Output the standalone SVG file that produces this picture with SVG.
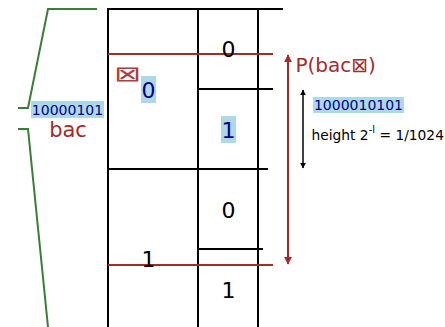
<svg xmlns="http://www.w3.org/2000/svg" width="445" height="327" viewBox="0 0 445 327">
  <style>
    text { font-family: "DejaVu Sans", sans-serif; }
    .grid { stroke: #000; stroke-width: 2; fill: none; }
    .cut { stroke: #a52a2a; stroke-width: 2; fill: none; }
    .brace { stroke: #3a7d3a; stroke-width: 2; fill: none; }
    .digit { font-size: 22px; text-anchor: middle; fill: #000; }
    .code { fill: #00008b; }
    .hl { fill: #add8e6; }
    .red { fill: #a52a2a; }
  </style>
  <defs>
    <marker id="redHead" viewBox="0 0 10 10" refX="9" refY="5" markerWidth="4" markerHeight="4" orient="auto-start-reverse">
      <path d="M0,0 L10,5 L0,10 z" fill="#a52a2a"/>
    </marker>
    <marker id="blackHead" viewBox="0 0 10 10" refX="9" refY="5" markerWidth="4" markerHeight="4" orient="auto-start-reverse">
      <path d="M0,0 L10,5 L0,10 z" fill="#000"/>
    </marker>
  </defs>

  <!-- interval grid -->
  <g id="grid">
    <path class="grid" d="M108,9 V327 M198,9 V327 M258,9 V327 M107,9 H283 M198,89 H273 M108,169 H268 M198,249 H263"/>
  </g>

  <!-- interval of the message -->
  <g id="bounds">
    <path class="cut" d="M108,54 H273 M108,265 H273"/>
  </g>

  <g id="connectors">
    <line x1="288" y1="264" x2="288" y2="55" stroke="#a52a2a" stroke-width="2" marker-start="url(#redHead)" marker-end="url(#redHead)"/>
    <line x1="303" y1="168" x2="303" y2="90" stroke="#000" stroke-width="1.5" marker-start="url(#blackHead)" marker-end="url(#blackHead)"/>
  </g>

  <!-- brace on the left -->
  <g id="brace">
    <path class="brace" d="M97,9 H48 L28,108 H18 M18,129 H28 L48,327"/>
  </g>

  <g id="cells">
    <text class="digit" x="228.5" y="57">0</text>
    <g id="cell-0">
      <rect class="hl" x="141" y="76" width="15" height="27"/>
      <text class="digit code" x="148.5" y="98">0</text>
    </g>
    <g id="cell-1">
      <rect class="hl" x="221" y="116" width="15" height="27"/>
      <text class="digit code" x="228.5" y="138">1</text>
    </g>
    <text class="digit" x="228.5" y="218">0</text>
    <text class="digit" x="228.5" y="298">1</text>
    <text class="digit" x="148.5" y="267">1</text>
    <text class="red" transform="translate(114,81) scale(1.55,1)" x="0" y="0" font-size="21" opacity="0.9">⊠</text>
  </g>

  <g id="label-bac">
    <rect class="hl" x="31" y="101" width="73" height="17"/>
    <text class="code" x="67.5" y="115" font-size="14" text-anchor="middle">10000101</text>
    <text class="red" x="68" y="137" font-size="21" text-anchor="middle">bac</text>
  </g>

  <g id="label-prob">
    <text class="red" x="295.5" y="72" font-size="20">P(bac⊠)</text>
  </g>

  <g id="label-code">
    <rect class="hl" x="313" y="97" width="91" height="16"/>
    <text class="code" x="358.5" y="110" font-size="14" text-anchor="middle">1000010101</text>
    <text x="311.5" y="140" font-size="13.8">height 2<tspan font-size="10" dy="-7">-l</tspan><tspan dy="7"> = 1/1024</tspan></text>
  </g>
</svg>
